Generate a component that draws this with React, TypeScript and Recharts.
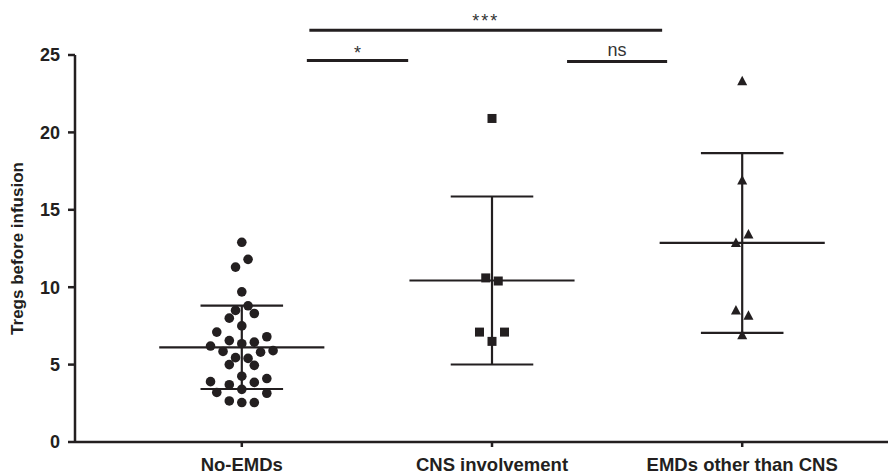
import React from "react";
import { ComposedChart, Scatter, XAxis, YAxis, ReferenceLine } from "recharts";

const INK = "#231f20";
const FONT = "'Liberation Sans', Arial, Helvetica, sans-serif";

const groups = ["No-EMDs", "CNS involvement", "EMDs other than CNS"];
const yTicks = [0, 5, 10, 15, 20, 25];

// Tregs values; slots = horizontal beeswarm offset (in dot widths)
const noEmdValues = [
  12.9, 11.8, 11.3, 9.7, 8.8, 8.5, 8.3, 8.0, 7.5, 7.1, 6.8, 6.55, 6.45, 6.35, 6.2, 5.85, 5.8,
  5.9, 5.45, 5.4, 5.0, 4.95, 4.25, 4.1, 3.9, 3.7, 3.85, 3.2, 3.4, 3.15, 2.65, 2.55, 2.55,
];
const noEmdSlots = [
  0, 0.5, -0.5, 0, 0.5, -0.5, 1, -1, 0, -2, 2, -1, 1, 0, -2.5, -1.5, 1.5,
  2.5, -0.5, 0.5, -1, 1, 0, 2, -2.5, -1, 1, -2, 0, 2, -1, 0, 1,
];
const cnsValues = [20.9, 10.6, 10.4, 7.1, 7.1, 6.5];
const cnsSlots = [0, -0.5, 0.5, -1, 1, 0];
const emdValues = [23.3, 16.9, 13.4, 12.85, 8.5, 8.15, 6.9];
const emdSlots = [0, 0, 0.5, -0.5, -0.5, 0.5, 0];

const SLOT = 0.05;

const toPoints = (values: number[], slots: number[], center: number) =>
  values.map((y, i) => ({ x: center + slots[i] * SLOT, y }));

const stats = (values: number[]) => {
  const mean = values.reduce((a, b) => a + b, 0) / values.length;
  const v = values.reduce((a, b) => a + (b - mean) ** 2, 0) / (values.length - 1);
  return { mean, sd: Math.sqrt(v) };
};

const Dot = (p: any) => <circle cx={p.cx} cy={p.cy} r={4.8} fill={INK} />;
const Square = (p: any) => <rect x={p.cx - 4.5} y={p.cy - 4.5} width={9} height={9} fill={INK} />;
const Tri = (p: any) => (
  <path d={`M${p.cx},${p.cy - 5.5}L${p.cx + 5},${p.cy + 4}L${p.cx - 5},${p.cy + 4}Z`} fill={INK} />
);

const series = [
  { values: noEmdValues, slots: noEmdSlots, shape: Dot },
  { values: cnsValues, slots: cnsSlots, shape: Square },
  { values: emdValues, slots: emdSlots, shape: Tri },
];

const sigText = { fill: "#333", fontSize: 18, fontFamily: FONT };

export default function App() {
  return (
    <div style={{ width: 888, height: 467, overflow: "hidden" }}>
      <ComposedChart width={901} height={467} margin={{ top: 47, right: 0, bottom: 0, left: 7 }}>
        <XAxis
          type="number"
          dataKey="x"
          domain={[1 / 3, 11 / 3]}
          ticks={[1, 2, 3]}
          interval={0}
          allowDataOverflow
          tickFormatter={(v: number) => groups[v - 1]}
          stroke={INK}
          strokeWidth={2.5}
          tickSize={5}
          tickMargin={11}
          height={33}
          tick={{ fill: INK, fontSize: 18.5, fontWeight: "bold", fontFamily: FONT }}
        />
        <YAxis
          type="number"
          dataKey="y"
          domain={[0, 25]}
          ticks={yTicks}
          width={60}
          tickSize={7}
          tickMargin={8}
          stroke={INK}
          strokeWidth={2.5}
          tick={{ fill: INK, fontSize: 18, fontWeight: "bold", fontFamily: FONT }}
          label={{
            value: "Tregs before infusion",
            angle: -90,
            position: "insideLeft",
            offset: 2,
            style: { textAnchor: "middle", fill: INK, fontSize: 17, fontWeight: "bold", fontFamily: FONT },
          }}
        />

        {series.map((s, i) => {
          const c = i + 1;
          const { mean, sd } = stats(s.values);
          return (
            <React.Fragment key={groups[i]}>
              <ReferenceLine segment={[{ x: c - 0.33, y: mean }, { x: c + 0.33, y: mean }]} stroke={INK} strokeWidth={2.2} />
              <ReferenceLine segment={[{ x: c - 0.165, y: mean + sd }, { x: c + 0.165, y: mean + sd }]} stroke={INK} strokeWidth={2.2} />
              <ReferenceLine segment={[{ x: c - 0.165, y: mean - sd }, { x: c + 0.165, y: mean - sd }]} stroke={INK} strokeWidth={2.2} />
              <ReferenceLine segment={[{ x: c, y: mean - sd }, { x: c, y: mean + sd }]} stroke={INK} strokeWidth={2.2} />
            </React.Fragment>
          );
        })}

        {series.map((s, i) => (
          <Scatter
            key={groups[i]}
            name={groups[i]}
            data={toPoints(s.values, s.slots, i + 1)}
            dataKey="y"
            shape={s.shape}
            isAnimationActive={false}
          />
        ))}

        <ReferenceLine
          segment={[{ x: 1.27, y: 26.6 }, { x: 2.68, y: 26.6 }]}
          ifOverflow="visible"
          stroke={INK}
          strokeWidth={3}
          label={{ value: "***", position: "top", offset: 3, letterSpacing: 2, ...sigText }}
        />
        <ReferenceLine
          segment={[{ x: 1.26, y: 24.65 }, { x: 1.665, y: 24.65 }]}
          ifOverflow="visible"
          stroke={INK}
          strokeWidth={3}
          label={{ value: "*", position: "top", offset: 1, ...sigText }}
        />
        <ReferenceLine
          segment={[{ x: 2.3, y: 24.58 }, { x: 2.7, y: 24.58 }]}
          ifOverflow="visible"
          stroke={INK}
          strokeWidth={3}
          label={{ value: "ns", position: "top", offset: 6, ...sigText }}
        />
      </ComposedChart>
    </div>
  );
}
